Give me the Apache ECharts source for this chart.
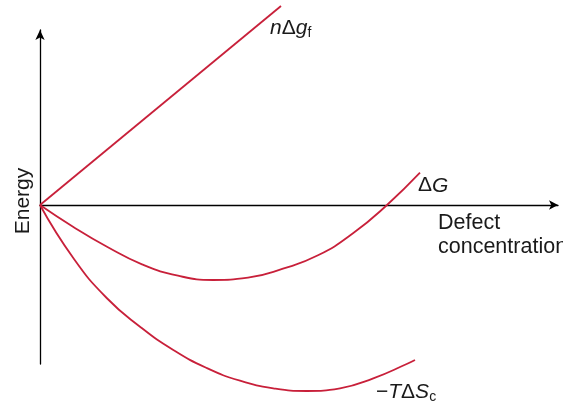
<!DOCTYPE html>
<html>
<head>
<meta charset="utf-8">
<script src="https://cdn.jsdelivr.net/npm/echarts@6/dist/echarts.min.js"></script>
<style>
  html, body { margin: 0; padding: 0; background: #fff; }
  #chart { width: 563px; height: 407px; }
</style>
</head>
<body>
<div id="chart"></div>
<script>
// Schematic free-energy curves versus defect concentration (arbitrary units)
const formationEnergy = [[0, 0], [24.1, 19.9]];                 // n Δg_f
const freeEnergy = [[0, 0], [3.3, -2.17], [6.7, -4.17], [10.2, -5.93], [13.8, -7.07],
  [17.3, -7.5], [20.8, -7.27], [24.3, -6.37], [27.8, -5.03], [31.3, -2.83],
  [34.7, 0], [38, 3.23]];                                          // ΔG
const entropyTerm = [[0, 0], [3.33, -5.3], [6.67, -9.3], [10, -12.17], [13.33, -14.5],
  [16.67, -16.3], [20, -17.57], [23.33, -18.33], [26.67, -18.6], [30, -18.33],
  [33.33, -17.33], [36.67, -15.9], [37.5, -15.5]];                 // −TΔS_c

const xMax = 51.8, yMin = -15.9, yMax = 17.5;
const axisTitleX = 'Defect\nconcentration';
const axisTitleY = 'Energy';

const FONT = '"Liberation Sans", Arial, Helvetica, sans-serif';
const RED = '#c8203a';
const INK = '#1a1a1a';

const rich = {
  i: { fontFamily: FONT, fontSize: 21, fontStyle: 'italic', color: INK, lineHeight: 24 },
  u: { fontFamily: FONT, fontSize: 21, color: INK, lineHeight: 24 },
  s: { fontFamily: FONT, fontSize: 14, color: INK, lineHeight: 12, verticalAlign: 'bottom' }
};

function curve(name, data, smooth, label, offset) {
  return {
    name, type: 'line', data, smooth, clip: false, symbol: 'none',
    lineStyle: { color: RED, width: 1.8 },
    endLabel: { show: true, distance: 0, offset, formatter: () => label, rich }
  };
}

const chart = echarts.init(document.getElementById('chart'), null, { renderer: 'canvas' });
chart.setOption({
  animation: false,
  backgroundColor: '#fff',
  grid: { left: 40, right: 5, top: 30, bottom: 43, containLabel: false },
  xAxis: {
    type: 'value', min: 0, max: xMax,
    axisLine: { onZero: true, symbol: ['none', 'arrow'], symbolSize: [7, 9],
      lineStyle: { color: '#000', width: 1.3 } },
    axisTick: { show: false }, axisLabel: { show: false }, splitLine: { show: false }
  },
  yAxis: {
    type: 'value', min: yMin, max: yMax,
    name: axisTitleY, nameLocation: 'middle', nameGap: 6, nameRotate: 90,
    nameTextStyle: { fontFamily: FONT, fontSize: 21, color: INK, padding: [0, 8, 0, 0] },
    axisLine: { symbol: ['none', 'arrow'], symbolSize: [7, 10],
      lineStyle: { color: '#000', width: 1.3 } },
    axisTick: { show: false }, axisLabel: { show: false }, splitLine: { show: false }
  },
  graphic: [{
    type: 'text', left: 438, top: 211,
    style: { text: axisTitleX, font: '21.5px ' + FONT, fill: INK, lineHeight: 24 }
  }],
  series: [
    curve('nΔgf', formationEnergy, false, '{i|n}{u|Δ}{i|g}{s|f}', [-11, 22]),
    curve('ΔG', freeEnergy, 0.5, '{u|Δ}{i|G}', [-2, 13]),
    curve('−TΔSc', entropyTerm, 0.5, '{u|−}{i|T}{u|Δ}{i|S}{s|c}', [-39, 32])
  ]
});
</script>
</body>
</html>
